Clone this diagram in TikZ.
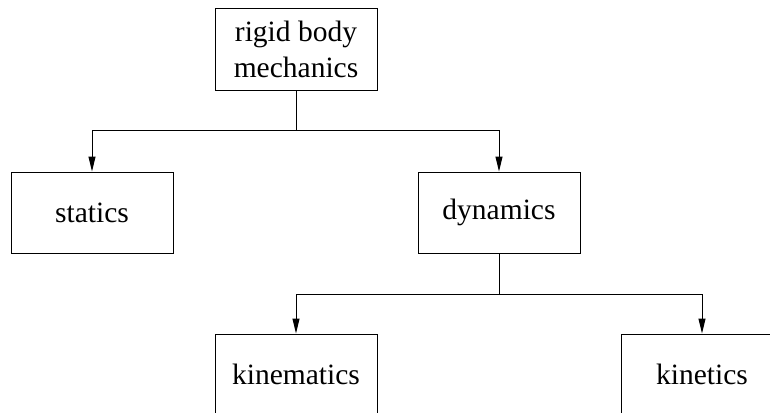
\documentclass[tikz,border=0pt]{standalone}
\usepackage{fontspec}
\setmainfont{Liberation Serif}
\usetikzlibrary{arrows.meta}
\begin{document}
\begin{tikzpicture}[x=1pt,y=-1pt,
  box/.style={draw=black,line width=1pt,minimum width=162pt,minimum height=81pt,
    inner sep=0pt,align=center,font=\fontsize{29.5}{36.5}\selectfont},
  conn/.style={draw=black,line width=1pt},
  arr/.style={conn,-{Triangle[length=15pt,width=7pt]}}]
\useasboundingbox (0,0) rectangle (770,412);
\clip (0,0) rectangle (770,412);
\node[box] (top) at (296,49.5) {rigid body\\mechanics};
\node[box] (stat) at (92,212.5) {statics};
\node[box] (dyn) at (499,212.5) {dynamics};
\node[box] (kinem) at (296,374.5) {kinematics};
\node[box] (kinet) at (702,374.5) {kinetics};
\coordinate (j1) at (296,130);
\coordinate (j2) at (499,294);
\draw[conn] (top.south) -- (j1);
\draw[arr] (j1) -| (stat.north);
\draw[arr] (j1) -| (dyn.north);
\draw[conn] (dyn.south) -- (j2);
\draw[arr] (j2) -| (kinem.north);
\draw[arr] (j2) -| (kinet.north);
\end{tikzpicture}
\end{document}
